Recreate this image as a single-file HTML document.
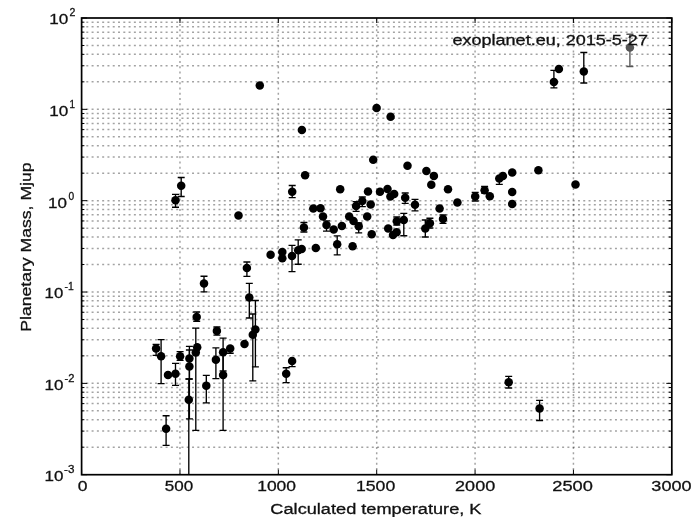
<!DOCTYPE html>
<html><head><meta charset="utf-8"><style>
html,body{margin:0;padding:0;background:#fff;}
svg{display:block;filter:grayscale(1)}
.g,.gv{stroke:#000;stroke-width:1.5;stroke-dasharray:2 3.2867;opacity:0.36;fill:none}
.g{stroke-dashoffset:0.59}
.gv{stroke-dashoffset:0.7}
.t{stroke:#000;stroke-width:1.0;fill:none}
.s{stroke:#000;stroke-width:1.7;fill:none}
.e{stroke-width:1.35;fill:none}
text{font-family:"Liberation Sans",sans-serif;fill:#111;stroke:#111;stroke-width:0.3px;opacity:0.999}
.tl{font-size:15px}
.sup{font-size:11px}
.al{font-size:15px}
</style></head><body>
<svg width="699" height="524" viewBox="0 0 699 524">
<line x1="81.60" y1="447.20" x2="671.80" y2="447.20" class="g"/>
<line x1="81.60" y1="431.12" x2="671.80" y2="431.12" class="g"/>
<line x1="81.60" y1="419.71" x2="671.80" y2="419.71" class="g"/>
<line x1="81.60" y1="410.86" x2="671.80" y2="410.86" class="g"/>
<line x1="81.60" y1="403.62" x2="671.80" y2="403.62" class="g"/>
<line x1="81.60" y1="397.51" x2="671.80" y2="397.51" class="g"/>
<line x1="81.60" y1="392.21" x2="671.80" y2="392.21" class="g"/>
<line x1="81.60" y1="387.54" x2="671.80" y2="387.54" class="g"/>
<line x1="81.60" y1="383.36" x2="671.80" y2="383.36" class="g"/>
<line x1="81.60" y1="355.86" x2="671.80" y2="355.86" class="g"/>
<line x1="81.60" y1="339.78" x2="671.80" y2="339.78" class="g"/>
<line x1="81.60" y1="328.37" x2="671.80" y2="328.37" class="g"/>
<line x1="81.60" y1="319.52" x2="671.80" y2="319.52" class="g"/>
<line x1="81.60" y1="312.28" x2="671.80" y2="312.28" class="g"/>
<line x1="81.60" y1="306.17" x2="671.80" y2="306.17" class="g"/>
<line x1="81.60" y1="300.87" x2="671.80" y2="300.87" class="g"/>
<line x1="81.60" y1="296.20" x2="671.80" y2="296.20" class="g"/>
<line x1="81.60" y1="292.02" x2="671.80" y2="292.02" class="g"/>
<line x1="81.60" y1="264.52" x2="671.80" y2="264.52" class="g"/>
<line x1="81.60" y1="248.44" x2="671.80" y2="248.44" class="g"/>
<line x1="81.60" y1="237.03" x2="671.80" y2="237.03" class="g"/>
<line x1="81.60" y1="228.18" x2="671.80" y2="228.18" class="g"/>
<line x1="81.60" y1="220.94" x2="671.80" y2="220.94" class="g"/>
<line x1="81.60" y1="214.83" x2="671.80" y2="214.83" class="g"/>
<line x1="81.60" y1="209.53" x2="671.80" y2="209.53" class="g"/>
<line x1="81.60" y1="204.86" x2="671.80" y2="204.86" class="g"/>
<line x1="81.60" y1="200.68" x2="671.80" y2="200.68" class="g"/>
<line x1="81.60" y1="173.18" x2="671.80" y2="173.18" class="g"/>
<line x1="81.60" y1="157.10" x2="671.80" y2="157.10" class="g"/>
<line x1="81.60" y1="145.69" x2="671.80" y2="145.69" class="g"/>
<line x1="81.60" y1="136.84" x2="671.80" y2="136.84" class="g"/>
<line x1="81.60" y1="129.60" x2="671.80" y2="129.60" class="g"/>
<line x1="81.60" y1="123.49" x2="671.80" y2="123.49" class="g"/>
<line x1="81.60" y1="118.19" x2="671.80" y2="118.19" class="g"/>
<line x1="81.60" y1="113.52" x2="671.80" y2="113.52" class="g"/>
<line x1="81.60" y1="109.34" x2="671.80" y2="109.34" class="g"/>
<line x1="81.60" y1="81.84" x2="671.80" y2="81.84" class="g"/>
<line x1="81.60" y1="65.76" x2="671.80" y2="65.76" class="g"/>
<line x1="81.60" y1="54.35" x2="671.80" y2="54.35" class="g"/>
<line x1="81.60" y1="45.50" x2="671.80" y2="45.50" class="g"/>
<line x1="81.60" y1="38.26" x2="671.80" y2="38.26" class="g"/>
<line x1="81.60" y1="32.15" x2="671.80" y2="32.15" class="g"/>
<line x1="81.60" y1="26.85" x2="671.80" y2="26.85" class="g"/>
<line x1="81.60" y1="22.18" x2="671.80" y2="22.18" class="g"/>
<line x1="179.97" y1="474.70" x2="179.97" y2="18.00" class="gv"/>
<line x1="278.33" y1="474.70" x2="278.33" y2="18.00" class="gv"/>
<line x1="376.70" y1="474.70" x2="376.70" y2="18.00" class="gv"/>
<line x1="475.07" y1="474.70" x2="475.07" y2="18.00" class="gv"/>
<line x1="573.43" y1="474.70" x2="573.43" y2="18.00" class="gv"/>
<path d="M81.60 474.70v-5M81.60 18.00v5M179.97 474.70v-5M179.97 18.00v5M278.33 474.70v-5M278.33 18.00v5M376.70 474.70v-5M376.70 18.00v5M475.07 474.70v-5M475.07 18.00v5M573.43 474.70v-5M573.43 18.00v5M671.80 474.70v-5M671.80 18.00v5M81.60 474.70h5.5M671.80 474.70h-5.5M81.60 447.20h2.8M671.80 447.20h-2.8M81.60 431.12h2.8M671.80 431.12h-2.8M81.60 419.71h2.8M671.80 419.71h-2.8M81.60 410.86h2.8M671.80 410.86h-2.8M81.60 403.62h2.8M671.80 403.62h-2.8M81.60 397.51h2.8M671.80 397.51h-2.8M81.60 392.21h2.8M671.80 392.21h-2.8M81.60 387.54h2.8M671.80 387.54h-2.8M81.60 383.36h5.5M671.80 383.36h-5.5M81.60 355.86h2.8M671.80 355.86h-2.8M81.60 339.78h2.8M671.80 339.78h-2.8M81.60 328.37h2.8M671.80 328.37h-2.8M81.60 319.52h2.8M671.80 319.52h-2.8M81.60 312.28h2.8M671.80 312.28h-2.8M81.60 306.17h2.8M671.80 306.17h-2.8M81.60 300.87h2.8M671.80 300.87h-2.8M81.60 296.20h2.8M671.80 296.20h-2.8M81.60 292.02h5.5M671.80 292.02h-5.5M81.60 264.52h2.8M671.80 264.52h-2.8M81.60 248.44h2.8M671.80 248.44h-2.8M81.60 237.03h2.8M671.80 237.03h-2.8M81.60 228.18h2.8M671.80 228.18h-2.8M81.60 220.94h2.8M671.80 220.94h-2.8M81.60 214.83h2.8M671.80 214.83h-2.8M81.60 209.53h2.8M671.80 209.53h-2.8M81.60 204.86h2.8M671.80 204.86h-2.8M81.60 200.68h5.5M671.80 200.68h-5.5M81.60 173.18h2.8M671.80 173.18h-2.8M81.60 157.10h2.8M671.80 157.10h-2.8M81.60 145.69h2.8M671.80 145.69h-2.8M81.60 136.84h2.8M671.80 136.84h-2.8M81.60 129.60h2.8M671.80 129.60h-2.8M81.60 123.49h2.8M671.80 123.49h-2.8M81.60 118.19h2.8M671.80 118.19h-2.8M81.60 113.52h2.8M671.80 113.52h-2.8M81.60 109.34h5.5M671.80 109.34h-5.5M81.60 81.84h2.8M671.80 81.84h-2.8M81.60 65.76h2.8M671.80 65.76h-2.8M81.60 54.35h2.8M671.80 54.35h-2.8M81.60 45.50h2.8M671.80 45.50h-2.8M81.60 38.26h2.8M671.80 38.26h-2.8M81.60 32.15h2.8M671.80 32.15h-2.8M81.60 26.85h2.8M671.80 26.85h-2.8M81.60 22.18h2.8M671.80 22.18h-2.8M81.60 18.00h5.5M671.80 18.00h-5.5" class="t"/>
<defs><clipPath id="c"><rect x="81.6" y="18.0" width="590.1999999999999" height="456.7"/></clipPath></defs><g clip-path="url(#c)">
<path d="M553.9 70.3V87.9M550.4 70.3h7M550.4 87.9h7" stroke="#000" class="e"/>
<path d="M583.8 52.5V83.0M580.3 52.5h7M580.3 83.0h7" stroke="#000" class="e"/>
<path d="M629.9 34.2V66.5M626.4 34.2h7M626.4 66.5h7" stroke="#555" class="e"/>
<path d="M181.2 177.5V196.5M177.7 177.5h7M177.7 196.5h7" stroke="#000" class="e"/>
<path d="M175.5 194.3V207.2M172.0 194.3h7M172.0 207.2h7" stroke="#000" class="e"/>
<path d="M292.2 185.5V197.6M288.7 185.5h7M288.7 197.6h7" stroke="#000" class="e"/>
<path d="M405.2 193.0V203.4M401.7 193.0h7M401.7 203.4h7" stroke="#000" class="e"/>
<path d="M475.2 192.3V201.0M471.7 192.3h7M471.7 201.0h7" stroke="#000" class="e"/>
<path d="M484.6 186.4V193.0M481.1 186.4h7M481.1 193.0h7" stroke="#000" class="e"/>
<path d="M499.3 178.6V184.3M495.8 178.6h7M495.8 184.3h7" stroke="#000" class="e"/>
<path d="M326.5 220.8V231.1M323.0 220.8h7M323.0 231.1h7" stroke="#000" class="e"/>
<path d="M337.2 235.9V254.8M333.7 235.9h7M333.7 254.8h7" stroke="#000" class="e"/>
<path d="M303.9 222.5V232.0M300.4 222.5h7M300.4 232.0h7" stroke="#000" class="e"/>
<path d="M362.3 197.0V206.6M358.8 197.0h7M358.8 206.6h7" stroke="#000" class="e"/>
<path d="M356.1 201.6V211.4M352.6 201.6h7M352.6 211.4h7" stroke="#000" class="e"/>
<path d="M358.7 223.0V232.9M355.2 223.0h7M355.2 232.9h7" stroke="#000" class="e"/>
<path d="M396.8 217.0V225.0M393.3 217.0h7M393.3 225.0h7" stroke="#000" class="e"/>
<path d="M403.8 213.3V235.7M400.3 213.3h7M400.3 235.7h7" stroke="#000" class="e"/>
<path d="M415.0 199.3V210.8M411.5 199.3h7M411.5 210.8h7" stroke="#000" class="e"/>
<path d="M443.0 215.0V223.3M439.5 215.0h7M439.5 223.3h7" stroke="#000" class="e"/>
<path d="M429.9 218.2V228.0M426.4 218.2h7M426.4 228.0h7" stroke="#000" class="e"/>
<path d="M425.3 220.0V237.0M421.8 220.0h7M421.8 237.0h7" stroke="#000" class="e"/>
<path d="M246.9 262.0V276.3M243.4 262.0h7M243.4 276.3h7" stroke="#000" class="e"/>
<path d="M292.0 245.4V271.6M288.5 245.4h7M288.5 271.6h7" stroke="#000" class="e"/>
<path d="M298.2 239.8V264.2M294.7 239.8h7M294.7 264.2h7" stroke="#000" class="e"/>
<path d="M204.0 276.2V291.9M200.5 276.2h7M200.5 291.9h7" stroke="#000" class="e"/>
<path d="M249.3 283.4V318.0M245.8 283.4h7M245.8 318.0h7" stroke="#000" class="e"/>
<path d="M196.7 312.0V321.2M193.2 312.0h7M193.2 321.2h7" stroke="#000" class="e"/>
<path d="M216.9 327.0V335.1M213.4 327.0h7M213.4 335.1h7" stroke="#000" class="e"/>
<path d="M195.8 328.1V430.3M192.3 328.1h7M192.3 430.3h7" stroke="#000" class="e"/>
<path d="M156.1 344.3V355.3M152.6 344.3h7M152.6 355.3h7" stroke="#000" class="e"/>
<path d="M161.1 339.6V383.6M157.6 339.6h7M157.6 383.6h7" stroke="#000" class="e"/>
<path d="M180.1 351.6V360.4M176.6 351.6h7M176.6 360.4h7" stroke="#000" class="e"/>
<path d="M175.5 363.3V385.4M172.0 363.3h7M172.0 385.4h7" stroke="#000" class="e"/>
<path d="M189.4 346.4V379.0M185.9 346.4h7M185.9 379.0h7" stroke="#000" class="e"/>
<path d="M189.4 350.0V418.9M185.9 350.0h7M185.9 418.9h7" stroke="#000" class="e"/>
<path d="M188.8 379.0V480.0M185.3 379.0h7M185.3 480.0h7" stroke="#000" class="e"/>
<path d="M215.9 347.8V378.6M212.4 347.8h7M212.4 378.6h7" stroke="#000" class="e"/>
<path d="M206.3 375.4V402.9M202.8 375.4h7M202.8 402.9h7" stroke="#000" class="e"/>
<path d="M166.1 415.7V445.4M162.6 415.7h7M162.6 445.4h7" stroke="#000" class="e"/>
<path d="M255.4 300.5V366.8M251.9 300.5h7M251.9 366.8h7" stroke="#000" class="e"/>
<path d="M252.8 314.0V380.9M249.3 314.0h7M249.3 380.9h7" stroke="#000" class="e"/>
<path d="M230.2 348.6V353.2M226.7 348.6h7M226.7 353.2h7" stroke="#000" class="e"/>
<path d="M223.1 338.1V371.0M219.6 338.1h7M219.6 371.0h7" stroke="#000" class="e"/>
<path d="M223.1 352.0V430.3M219.6 352.0h7M219.6 430.3h7" stroke="#000" class="e"/>
<path d="M292.1 361.0V366.6M288.6 361.0h7M288.6 366.6h7" stroke="#000" class="e"/>
<path d="M286.2 367.7V382.6M282.7 367.7h7M282.7 382.6h7" stroke="#000" class="e"/>
<path d="M508.7 376.3V388.0M505.2 376.3h7M505.2 388.0h7" stroke="#000" class="e"/>
<path d="M539.6 400.3V420.5M536.1 400.3h7M536.1 420.5h7" stroke="#000" class="e"/>
<circle cx="553.9" cy="82.1" r="4.25" fill="#000"/>
<circle cx="558.9" cy="69.0" r="4.25" fill="#000"/>
<circle cx="583.8" cy="71.6" r="4.25" fill="#000"/>
<circle cx="629.9" cy="47.5" r="4.25" fill="#555"/>
<circle cx="259.8" cy="85.6" r="4.25" fill="#000"/>
<circle cx="301.9" cy="130.0" r="4.25" fill="#000"/>
<circle cx="376.6" cy="108.1" r="4.25" fill="#000"/>
<circle cx="390.6" cy="116.7" r="4.25" fill="#000"/>
<circle cx="181.2" cy="185.8" r="4.25" fill="#000"/>
<circle cx="175.5" cy="200.3" r="4.25" fill="#000"/>
<circle cx="238.5" cy="215.4" r="4.25" fill="#000"/>
<circle cx="305.1" cy="175.3" r="4.25" fill="#000"/>
<circle cx="292.2" cy="191.8" r="4.25" fill="#000"/>
<circle cx="340.2" cy="189.3" r="4.25" fill="#000"/>
<circle cx="373.2" cy="159.7" r="4.25" fill="#000"/>
<circle cx="407.5" cy="165.8" r="4.25" fill="#000"/>
<circle cx="368.0" cy="191.5" r="4.25" fill="#000"/>
<circle cx="380.0" cy="191.7" r="4.25" fill="#000"/>
<circle cx="387.5" cy="189.0" r="4.25" fill="#000"/>
<circle cx="394.2" cy="194.0" r="4.25" fill="#000"/>
<circle cx="390.4" cy="196.5" r="4.25" fill="#000"/>
<circle cx="405.2" cy="197.8" r="4.25" fill="#000"/>
<circle cx="426.4" cy="171.1" r="4.25" fill="#000"/>
<circle cx="433.9" cy="176.1" r="4.25" fill="#000"/>
<circle cx="431.3" cy="184.8" r="4.25" fill="#000"/>
<circle cx="448.0" cy="189.2" r="4.25" fill="#000"/>
<circle cx="475.2" cy="196.4" r="4.25" fill="#000"/>
<circle cx="484.6" cy="190.2" r="4.25" fill="#000"/>
<circle cx="489.8" cy="196.3" r="4.25" fill="#000"/>
<circle cx="457.4" cy="202.5" r="4.25" fill="#000"/>
<circle cx="502.9" cy="176.0" r="4.25" fill="#000"/>
<circle cx="499.3" cy="178.6" r="4.25" fill="#000"/>
<circle cx="512.2" cy="172.6" r="4.25" fill="#000"/>
<circle cx="538.4" cy="170.3" r="4.25" fill="#000"/>
<circle cx="512.2" cy="191.9" r="4.25" fill="#000"/>
<circle cx="512.2" cy="204.0" r="4.25" fill="#000"/>
<circle cx="575.5" cy="184.6" r="4.25" fill="#000"/>
<circle cx="313.3" cy="208.5" r="4.25" fill="#000"/>
<circle cx="320.5" cy="208.3" r="4.25" fill="#000"/>
<circle cx="323.0" cy="216.6" r="4.25" fill="#000"/>
<circle cx="326.5" cy="224.9" r="4.25" fill="#000"/>
<circle cx="333.7" cy="229.6" r="4.25" fill="#000"/>
<circle cx="337.2" cy="244.2" r="4.25" fill="#000"/>
<circle cx="341.9" cy="226.1" r="4.25" fill="#000"/>
<circle cx="349.2" cy="216.5" r="4.25" fill="#000"/>
<circle cx="303.9" cy="227.6" r="4.25" fill="#000"/>
<circle cx="362.3" cy="201.0" r="4.25" fill="#000"/>
<circle cx="356.1" cy="205.9" r="4.25" fill="#000"/>
<circle cx="370.7" cy="204.6" r="4.25" fill="#000"/>
<circle cx="353.5" cy="221.0" r="4.25" fill="#000"/>
<circle cx="358.7" cy="226.3" r="4.25" fill="#000"/>
<circle cx="367.2" cy="216.6" r="4.25" fill="#000"/>
<circle cx="371.7" cy="234.3" r="4.25" fill="#000"/>
<circle cx="388.2" cy="228.4" r="4.25" fill="#000"/>
<circle cx="396.8" cy="221.3" r="4.25" fill="#000"/>
<circle cx="403.8" cy="220.0" r="4.25" fill="#000"/>
<circle cx="396.6" cy="232.3" r="4.25" fill="#000"/>
<circle cx="393.0" cy="235.0" r="4.25" fill="#000"/>
<circle cx="415.0" cy="204.7" r="4.25" fill="#000"/>
<circle cx="439.6" cy="208.5" r="4.25" fill="#000"/>
<circle cx="443.0" cy="218.9" r="4.25" fill="#000"/>
<circle cx="429.9" cy="223.3" r="4.25" fill="#000"/>
<circle cx="425.3" cy="228.4" r="4.25" fill="#000"/>
<circle cx="352.6" cy="246.2" r="4.25" fill="#000"/>
<circle cx="246.9" cy="268.1" r="4.25" fill="#000"/>
<circle cx="270.6" cy="254.8" r="4.25" fill="#000"/>
<circle cx="282.3" cy="252.1" r="4.25" fill="#000"/>
<circle cx="282.3" cy="258.2" r="4.25" fill="#000"/>
<circle cx="292.0" cy="256.1" r="4.25" fill="#000"/>
<circle cx="298.2" cy="250.2" r="4.25" fill="#000"/>
<circle cx="301.7" cy="248.9" r="4.25" fill="#000"/>
<circle cx="315.8" cy="247.9" r="4.25" fill="#000"/>
<circle cx="204.0" cy="283.4" r="4.25" fill="#000"/>
<circle cx="249.3" cy="297.5" r="4.25" fill="#000"/>
<circle cx="196.7" cy="316.9" r="4.25" fill="#000"/>
<circle cx="216.9" cy="330.9" r="4.25" fill="#000"/>
<circle cx="195.8" cy="352.4" r="4.25" fill="#000"/>
<circle cx="197.2" cy="347.2" r="4.25" fill="#000"/>
<circle cx="156.1" cy="348.6" r="4.25" fill="#000"/>
<circle cx="161.1" cy="356.2" r="4.25" fill="#000"/>
<circle cx="180.1" cy="356.2" r="4.25" fill="#000"/>
<circle cx="168.0" cy="375.1" r="4.25" fill="#000"/>
<circle cx="175.5" cy="373.7" r="4.25" fill="#000"/>
<circle cx="189.4" cy="358.4" r="4.25" fill="#000"/>
<circle cx="189.4" cy="366.4" r="4.25" fill="#000"/>
<circle cx="188.8" cy="399.8" r="4.25" fill="#000"/>
<circle cx="215.9" cy="359.8" r="4.25" fill="#000"/>
<circle cx="206.3" cy="385.8" r="4.25" fill="#000"/>
<circle cx="166.1" cy="428.7" r="4.25" fill="#000"/>
<circle cx="255.4" cy="329.6" r="4.25" fill="#000"/>
<circle cx="252.8" cy="334.8" r="4.25" fill="#000"/>
<circle cx="244.5" cy="343.9" r="4.25" fill="#000"/>
<circle cx="230.2" cy="348.6" r="4.25" fill="#000"/>
<circle cx="223.1" cy="352.3" r="4.25" fill="#000"/>
<circle cx="223.1" cy="374.9" r="4.25" fill="#000"/>
<circle cx="292.1" cy="361.0" r="4.25" fill="#000"/>
<circle cx="286.2" cy="373.8" r="4.25" fill="#000"/>
<circle cx="508.7" cy="382.3" r="4.25" fill="#000"/>
<circle cx="539.6" cy="408.6" r="4.25" fill="#000"/>
</g>
<rect x="81.60" y="18.00" width="590.20" height="456.70" class="s"/>
<text x="77.81" y="491.30" textLength="9.73" lengthAdjust="spacingAndGlyphs" style="font-size:15.2px">0</text>
<text x="164.73" y="491.30" textLength="28.40" lengthAdjust="spacingAndGlyphs" style="font-size:15.2px">500</text>
<text x="257.22" y="491.30" textLength="38.78" lengthAdjust="spacingAndGlyphs" style="font-size:15.2px">1000</text>
<text x="355.91" y="491.30" textLength="39.31" lengthAdjust="spacingAndGlyphs" style="font-size:15.2px">1500</text>
<text x="455.05" y="491.30" textLength="40.18" lengthAdjust="spacingAndGlyphs" style="font-size:15.2px">2000</text>
<text x="552.24" y="491.30" textLength="40.60" lengthAdjust="spacingAndGlyphs" style="font-size:15.2px">2500</text>
<text x="651.39" y="491.30" textLength="40.14" lengthAdjust="spacingAndGlyphs" style="font-size:15.2px">3000</text>
<text x="49.15" y="24.30" textLength="19.04" lengthAdjust="spacingAndGlyphs" style="font-size:15.2px">10</text>
<text x="69.47" y="15.80" textLength="5.87" lengthAdjust="spacingAndGlyphs" style="font-size:11px">2</text>
<text x="49.15" y="116.10" textLength="19.04" lengthAdjust="spacingAndGlyphs" style="font-size:15.2px">10</text>
<text x="69.58" y="107.60" textLength="5.48" lengthAdjust="spacingAndGlyphs" style="font-size:11px">1</text>
<text x="48.11" y="207.60" textLength="18.93" lengthAdjust="spacingAndGlyphs" style="font-size:15.2px">10</text>
<text x="68.53" y="199.50" textLength="5.66" lengthAdjust="spacingAndGlyphs" style="font-size:11px">0</text>
<text x="44.64" y="298.10" textLength="18.63" lengthAdjust="spacingAndGlyphs" style="font-size:15.2px">10</text>
<text x="64.43" y="289.90" textLength="9.23" lengthAdjust="spacingAndGlyphs" style="font-size:11px">-1</text>
<text x="44.46" y="389.90" textLength="18.92" lengthAdjust="spacingAndGlyphs" style="font-size:15.2px">10</text>
<text x="64.59" y="381.50" textLength="9.89" lengthAdjust="spacingAndGlyphs" style="font-size:11px">-2</text>
<text x="44.46" y="481.40" textLength="18.92" lengthAdjust="spacingAndGlyphs" style="font-size:15.2px">10</text>
<text x="64.07" y="473.30" textLength="10.34" lengthAdjust="spacingAndGlyphs" style="font-size:11px">-3</text>
<text x="270.36" y="513.60" textLength="211.15" lengthAdjust="spacingAndGlyphs" style="font-size:15.5px">Calculated temperature, K</text>
<text x="452.47" y="44.60" textLength="195.46" lengthAdjust="spacingAndGlyphs" style="font-size:14.8px">exoplanet.eu, 2015-5-27</text>
<text transform="rotate(-90)" x="-331.69" y="30.7" textLength="169.24" lengthAdjust="spacingAndGlyphs" style="font-size:15.2px">Planetary Mass, Mjup</text>
</svg></body></html>
